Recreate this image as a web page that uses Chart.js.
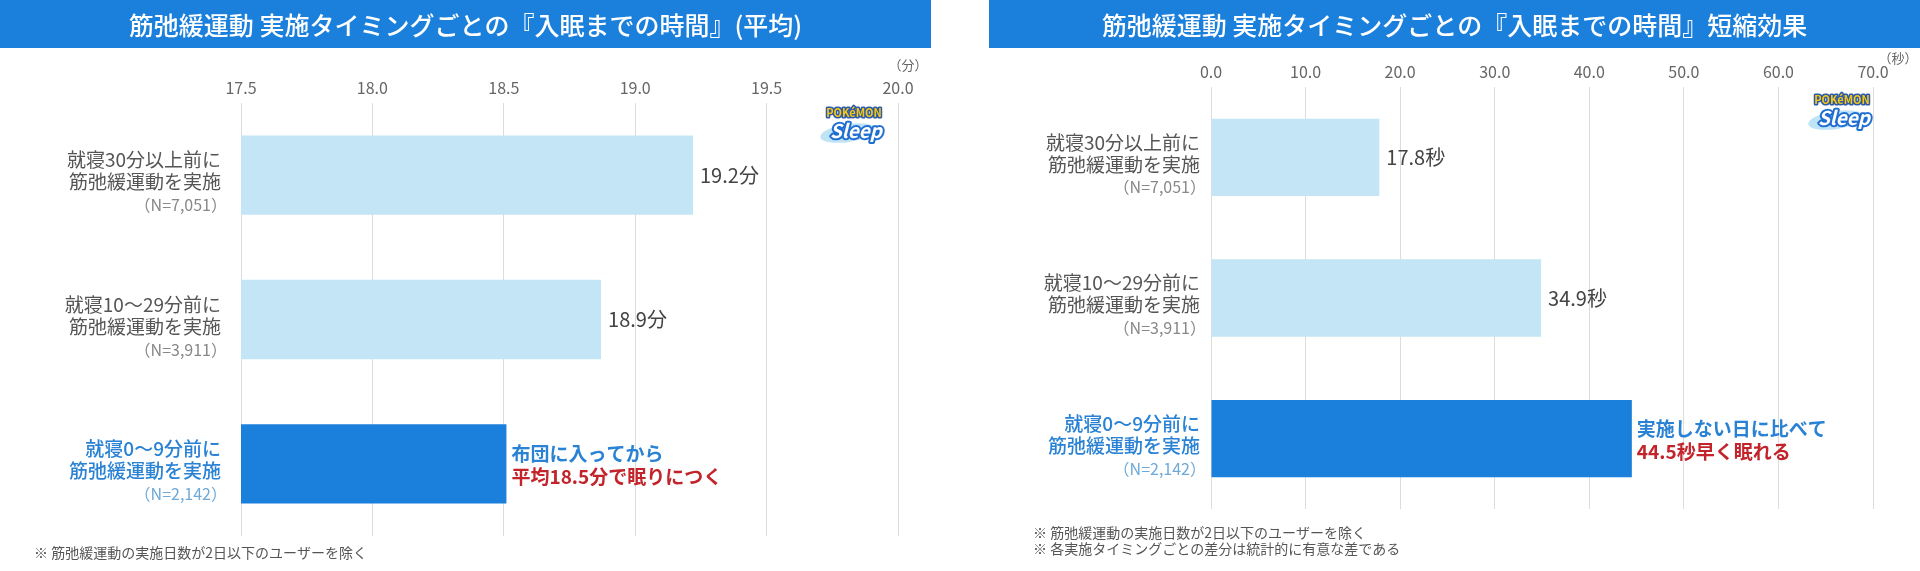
<!DOCTYPE html>
<html lang="ja">
<head>
<meta charset="utf-8">
<title>筋弛緩運動 実施タイミングごとの入眠までの時間</title>
<script src="https://cdn.jsdelivr.net/npm/chart.js@4.4.1/dist/chart.umd.min.js"></script>
<style>
  html, body { margin: 0; padding: 0; background: #fff; }
  .wrap { position: relative; width: 1920px; height: 571px; overflow: hidden; }
  .panel { position: absolute; top: 0; width: 960px; height: 571px; }
  #left { left: 0; }
  #right { left: 960px; }
</style>
</head>
<body>
<div class="wrap">
  <div class="panel" id="left"><canvas id="avgChart" width="960" height="571"></canvas></div>
  <div class="panel" id="right"><canvas id="shortChart" width="960" height="571"></canvas></div>
</div>
<script>
// ---- data ----
const categories = [
  ["就寝30分以上前に", "筋弛緩運動を実施"],
  ["就寝10～29分前に", "筋弛緩運動を実施"],
  ["就寝0～9分前に", "筋弛緩運動を実施"]
];
const sampleSizes = ["（N=7,051）", "（N=3,911）", "（N=2,142）"];
const avgMinutes = [19.22, 18.87, 18.51];       // 平均入眠時間（分）, labels show 1 decimal
const shortenedSeconds = [17.8, 34.9, 44.5];    // 短縮効果（秒）
const minuteTicks = [17.5, 18.0, 18.5, 19.0, 19.5, 20.0];
const secondTicks = [0, 10, 20, 30, 40, 50, 60, 70];

const FONT = '"Noto Sans CJK JP", "Noto Sans", sans-serif';
const BLUE = "#1b7fdc";
const LIGHT = "#c4e5f5";
const RED = "#c3242b";
const TEXT_BLUE = "#2a82d4";

Chart.defaults.font.family = FONT;
Chart.defaults.animation = false;

function drawLogo(ctx, x, y) {
  // rough Pokémon Sleep mark
  ctx.save();
  ctx.fillStyle = "#bfe3f7";
  ctx.beginPath();
  ctx.ellipse(x + 26, y + 28, 28, 9, -0.15, 0, Math.PI * 2);
  ctx.fill();
  ctx.textAlign = "center";
  ctx.textBaseline = "middle";
  ctx.lineJoin = "round";
  ctx.font = "bold 11px " + FONT;
  ctx.lineWidth = 3;
  ctx.strokeStyle = "#2d5aa8";
  ctx.strokeText("POKéMON", x + 32, y + 8);
  ctx.fillStyle = "#f6c814";
  ctx.fillText("POKéMON", x + 32, y + 8);
  ctx.font = "italic bold 19px " + FONT;
  ctx.lineWidth = 4;
  ctx.strokeStyle = "#1f6fd0";
  ctx.strokeText("Sleep", x + 34, y + 26);
  ctx.fillStyle = "#ffffff";
  ctx.fillText("Sleep", x + 34, y + 26);
  ctx.restore();
}

function decor(cfg) {
  return {
    id: "decor",
    afterDraw(chart) {
      const { ctx, chartArea } = chart;
      const xs = chart.scales.x, ys = chart.scales.y;
      ctx.save();

      // title bar
      ctx.fillStyle = BLUE;
      ctx.fillRect(cfg.barX, 0, cfg.barW, 48);
      ctx.fillStyle = "#fff";
      ctx.font = "500 25px " + FONT;
      ctx.textAlign = "center";
      ctx.textBaseline = "middle";
      ctx.fillText(cfg.title, cfg.barX + cfg.barW / 2, 25);

      // unit
      ctx.fillStyle = "#666";
      ctx.font = "13px " + FONT;
      ctx.fillText(cfg.unit, cfg.unitX, cfg.unitY);

      // category labels
      ctx.textAlign = "right";
      categories.forEach((lines, i) => {
        const y = ys.getPixelForValue(i);
        const x = chartArea.left - cfg.labelGap;
        const hi = i === categories.length - 1;
        ctx.fillStyle = hi ? TEXT_BLUE : "#555";
        ctx.font = (hi ? "500 " : "") + "19px " + FONT;
        ctx.fillText(lines[0], x, y - 15);
        ctx.fillText(lines[1], x, y + 7);
        ctx.fillStyle = hi ? "#6fa9d8" : "#888";
        ctx.font = "16px " + FONT;
        ctx.fillText(sampleSizes[i], x + 6, y + 30);
      });

      // value labels
      ctx.textAlign = "left";
      cfg.values.forEach((v, i) => {
        const y = ys.getPixelForValue(i);
        const x = xs.getPixelForValue(v) + 7;
        if (i < cfg.values.length - 1) {
          ctx.fillStyle = "#444";
          ctx.font = "20px " + FONT;
          ctx.fillText(v.toFixed(1) + cfg.suffix, x, y);
        } else {
          ctx.font = "bold 19px " + FONT;
          ctx.fillStyle = TEXT_BLUE;
          ctx.fillText(cfg.note[0], x - 2, y - 10);
          ctx.fillStyle = RED;
          ctx.fillText(cfg.note[1](v), x - 2, y + 13);
        }
      });

      // footnotes
      ctx.fillStyle = "#555";
      ctx.font = "14px " + FONT;
      cfg.footnotes.forEach((t, k) => ctx.fillText(t, cfg.footX, cfg.footY + k * 16));

      drawLogo(ctx, cfg.logoX, cfg.logoY);
      ctx.restore();
    }
  };
}

function makeChart(id, values, ticks, cfg) {
  const tickMin = ticks[0], tickMax = ticks[ticks.length - 1];
  return new Chart(document.getElementById(id), {
    type: "bar",
    data: {
      labels: categories,
      datasets: [{
        data: values,
        backgroundColor: values.map((_, i) => i === values.length - 1 ? BLUE : LIGHT),
        barPercentage: 0.55,
        categoryPercentage: 1
      }]
    },
    options: {
      indexAxis: "y",
      responsive: false,
      layout: { padding: cfg.padding },
      plugins: { legend: { display: false }, tooltip: { enabled: false } },
      scales: {
        x: {
          position: "top",
          min: tickMin,
          max: tickMax,
          afterBuildTicks: (s) => { s.ticks = ticks.map(v => ({ value: v })); },
          afterFit: (s) => { s.height = cfg.axisH; },
          ticks: {
            padding: 5,
            color: "#666",
            font: { size: 16 },
            callback: (v) => Number(v).toFixed(1)
          },
          grid: { color: "#dcdcdc", drawTicks: false },
          border: { display: false }
        },
        y: { display: false }
      }
    },
    plugins: [decor(cfg)]
  });
}

makeChart("avgChart", avgMinutes, minuteTicks, {
  padding: { left: 241, right: 62, top: 60, bottom: 35 },
  axisH: 43,
  barX: 0, barW: 931,
  title: "筋弛緩運動 実施タイミングごとの『入眠までの時間』(平均)",
  unit: "（分）", unitX: 908, unitY: 65,
  labelGap: 20,
  values: avgMinutes, suffix: "分",
  note: ["布団に入ってから", (v) => "平均" + v.toFixed(1) + "分で眠りにつく"],
  footnotes: ["※ 筋弛緩運動の実施日数が2日以下のユーザーを除く"],
  footX: 34, footY: 553,
  logoX: 822, logoY: 105
});

makeChart("shortChart", shortenedSeconds, secondTicks, {
  padding: { left: 251, right: 47, top: 45, bottom: 62 },
  axisH: 42,
  barX: 29, barW: 931,
  title: "筋弛緩運動 実施タイミングごとの『入眠までの時間』短縮効果",
  unit: "（秒）", unitX: 938, unitY: 58,
  labelGap: 11,
  values: shortenedSeconds, suffix: "秒",
  note: ["実施しない日に比べて", (v) => v.toFixed(1) + "秒早く眠れる"],
  footnotes: ["※ 筋弛緩運動の実施日数が2日以下のユーザーを除く", "※ 各実施タイミングごとの差分は統計的に有意な差である"],
  footX: 73, footY: 533,
  logoX: 850, logoY: 92
});
</script>
</body>
</html>
